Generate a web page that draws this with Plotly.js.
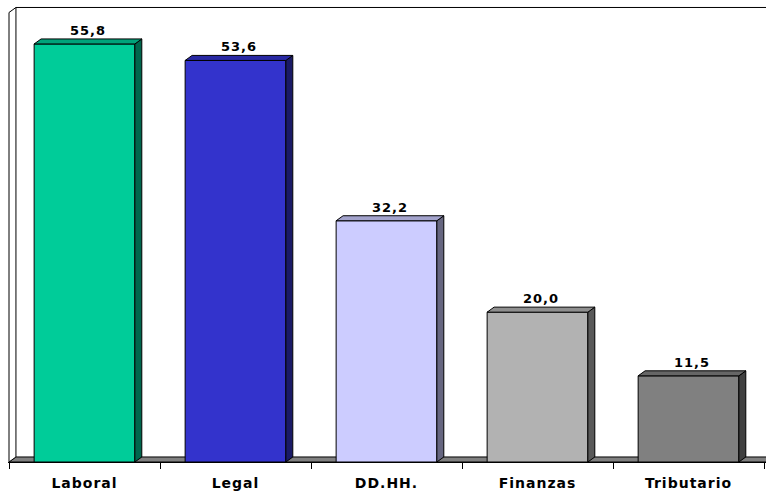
<!DOCTYPE html>
<html>
<head>
<meta charset="utf-8">
<script src="https://cdn.plot.ly/plotly-3.0.1.min.js"></script>
<style>
  html, body { margin: 0; padding: 0; background: #fff; }
  #chart { width: 766px; height: 495px; }
  .xtick text { letter-spacing: 1px; }
  .annotation-text { letter-spacing: 1px; }
</style>
</head>
<body>
<div id="chart"></div>
<script>
// ---- data ----
const categories = ['Laboral', 'Legal', 'DD.HH.', 'Finanzas', 'Tributario'];
const values = [55.8, 53.6, 32.2, 20.0, 11.5];
const frontColors = ['#00CC99', '#3333CC', '#CCCCFF', '#B2B2B2', '#808080'];
const topColors = ['#00A37A', '#2929A3', '#A3A3CC', '#8F8F8F', '#666666'];
const sideColors = ['#00664D', '#1A1A66', '#666680', '#595959', '#404040'];

// ---- 3D style constants ----
const BAR_W = 0.667;   // bar width in category units
const DX = 0.046;      // depth offset (x, category units)
const DY = 0.67;       // depth offset (y, value units)
const YMAX = 60;       // front wall top
const XMIN = -0.5, XMAX = 4.5;

const xs = categories.map((c, i) => i);
const fmt = v => v.toFixed(1).replace('.', ',');

const traces = [];

// front faces
traces.push({
  type: 'bar',
  x: xs,
  y: values,
  width: BAR_W,
  marker: { color: frontColors, line: { color: '#000', width: 1 } },
  hoverinfo: 'skip',
  showlegend: false
});

// side and top faces
values.forEach((v, i) => {
  const xl = xs[i] - BAR_W / 2, xr = xs[i] + BAR_W / 2;
  traces.push({
    type: 'scatter', mode: 'lines', fill: 'toself',
    x: [xr, xr, xr + DX, xr + DX, xr],
    y: [0, v, v + DY, DY, 0],
    fillcolor: sideColors[i],
    line: { color: '#000', width: 1 },
    hoverinfo: 'skip', showlegend: false
  });
  traces.push({
    type: 'scatter', mode: 'lines', fill: 'toself',
    x: [xl, xl + DX, xr + DX, xr, xl],
    y: [v, v + DY, v + DY, v, v],
    fillcolor: topColors[i],
    line: { color: '#000', width: 1 },
    hoverinfo: 'skip', showlegend: false
  });
});

const annotations = values.map((v, i) => ({
  x: xs[i] + DX / 2,
  y: v + DY,
  xref: 'x', yref: 'y',
  text: fmt(v),
  showarrow: false,
  yanchor: 'bottom',
  xanchor: 'center',
  yshift: -1,
  font: { family: 'DejaVu Sans', size: 13, color: '#000', weight: 'bold' }
}));

const shapes = [
  // floor
  { type: 'path', layer: 'below', xref: 'x', yref: 'y',
    path: `M ${XMIN},0 L ${XMIN + DX},${DY} L ${XMAX + 1},${DY} L ${XMAX + 1},0 Z`,
    fillcolor: '#808080', line: { color: '#000', width: 1 } },
  // left wall
  { type: 'path', layer: 'below', xref: 'x', yref: 'y',
    path: `M ${XMIN},0 L ${XMIN},${YMAX} L ${XMIN + DX},${YMAX + DY} L ${XMIN + DX},${DY} Z`,
    fillcolor: '#FFFFFF', line: { color: '#000', width: 1 } },
  // back wall top edge
  { type: 'line', layer: 'below', xref: 'x', yref: 'y',
    x0: XMIN + DX, y0: YMAX + DY, x1: XMAX + 1, y1: YMAX + DY,
    line: { color: '#000', width: 1 } }
];

const layout = {
  width: 766, height: 495,
  margin: { l: 8, r: 0, t: 5, b: 33, pad: 0 },
  paper_bgcolor: '#fff', plot_bgcolor: '#fff',
  showlegend: false,
  xaxis: {
    type: 'linear',
    range: [XMIN - 0.0066, XMAX + 0.0132],
    tickmode: 'array',
    tickvals: xs,
    ticktext: categories,
    ticks: '',
    ticklabelstandoff: 8,
    showline: true, linecolor: '#000', linewidth: 1,
    showgrid: false, zeroline: false,
    tickfont: { family: 'DejaVu Sans', size: 14, color: '#000', weight: 'bold' },
    minor: {
      tickmode: 'array',
      tickvals: [-0.5, 0.5, 1.5, 2.5, 3.5, 4.5],
      ticks: 'outside', ticklen: 6, tickcolor: '#000', tickwidth: 1,
      showgrid: false
    },
    fixedrange: true
  },
  yaxis: {
    range: [0, 61],
    showticklabels: false, ticks: '',
    showgrid: false, zeroline: false, showline: false,
    fixedrange: true
  },
  bargap: 0,
  shapes: shapes,
  annotations: annotations
};

Plotly.newPlot('chart', traces, layout, { staticPlot: true, displayModeBar: false });
</script>
</body>
</html>
